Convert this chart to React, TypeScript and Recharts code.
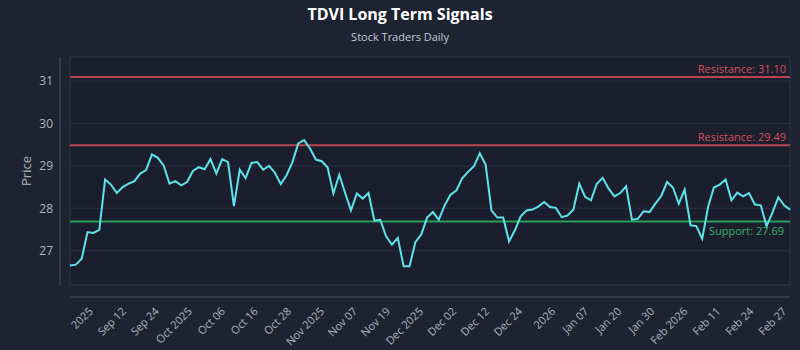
import React from 'react';
import { LineChart, Line, XAxis, YAxis, CartesianGrid, ReferenceLine } from 'recharts';

// ---------- data ----------
const TITLE = 'TDVI Long Term Signals';
const SUBTITLE = 'Stock Traders Daily';
const Y_LABEL = 'Price';

const PRICES = [
  26.65, 26.67, 26.81, 27.44, 27.42, 27.49, 28.68, 28.56, 28.36, 28.5,
  28.58, 28.64, 28.82, 28.9, 29.27, 29.19, 29.01, 28.58, 28.64, 28.54,
  28.62, 28.88, 28.97, 28.92, 29.16, 28.82, 29.16, 29.09, 28.05, 28.91,
  28.71, 29.07, 29.09, 28.91, 29.0, 28.84, 28.57, 28.78, 29.09, 29.53,
  29.61, 29.41, 29.15, 29.11, 28.97, 28.35, 28.79, 28.36, 27.95, 28.35,
  28.23, 28.36, 27.71, 27.73, 27.34, 27.14, 27.3, 26.63, 26.63, 27.2,
  27.38, 27.78, 27.91, 27.73, 28.07, 28.32, 28.42, 28.71, 28.86, 28.99,
  29.3, 29.03, 27.95, 27.78, 27.78, 27.22, 27.48, 27.81, 27.95, 27.97,
  28.04, 28.15, 28.03, 28.01, 27.79, 27.83, 27.97, 28.58, 28.27, 28.19,
  28.58, 28.72, 28.47, 28.28, 28.36, 28.52, 27.73, 27.75, 27.93, 27.91,
  28.11, 28.29, 28.62, 28.49, 28.11, 28.44, 27.6, 27.58, 27.28, 28.03,
  28.49, 28.56, 28.68, 28.19, 28.37, 28.28, 28.36, 28.09, 28.07, 27.58,
  27.9, 28.26, 28.07, 27.97,
];

const X_TICK_LABELS = [
  '2025', 'Sep 12', 'Sep 24', 'Oct 2025', 'Oct 06', 'Oct 16', 'Oct 28',
  'Nov 2025', 'Nov 07', 'Nov 19', 'Dec 2025', 'Dec 02', 'Dec 12', 'Dec 24',
  '2026', 'Jan 07', 'Jan 20', 'Jan 30', 'Feb 2026', 'Feb 11', 'Feb 24', 'Feb 27',
];

const Y_TICKS = [27, 28, 29, 30, 31];
const RESISTANCE_LEVELS = [31.1, 29.49];
const SUPPORT_LEVELS = [27.69];

// ---------- layout / style ----------
const W = 800;
const H = 350;
const PLOT = { left: 70, top: 57, right: 790, bottom: 285 };
const Y_DOMAIN: [number, number] = [26.19, 31.57];
const X_DOMAIN: [number, number] = [0, PRICES.length - 1];
const TICK_FIRST = 3.7;
const TICK_LAST = 122.2;

const FONT = '"Open Sans", "Noto Sans", sans-serif';
const BG = '#1e2332';
const PLOT_BG = '#1b1f2d';
const PLOT_BORDER = '#2c3243';
const GRID = '#2a3040';
const AXIS = '#4b5263';
const TEXT = '#aeb3bf';
const LINE = '#5fe3ea';
const RED_LINE = '#b9454f';
const RED_TEXT = '#d5505b';
const GREEN_LINE = '#2a9d5c';
const GREEN_TEXT = '#35b56b';

const data = PRICES.map((price, i) => ({ i, price }));
const xTicks = X_TICK_LABELS.map(
  (_, k) => TICK_FIRST + (k * (TICK_LAST - TICK_FIRST)) / (X_TICK_LABELS.length - 1)
);

const XTick = (props: any) => {
  const { x, y, payload } = props;
  const idx = xTicks.findIndex((t) => Math.abs(t - payload.value) < 1e-6);
  const label = idx >= 0 ? X_TICK_LABELS[idx] : '';
  return (
    <g transform={`translate(${x + 2},${y + 27})`}>
      <text
        x={0}
        y={0}
        textAnchor="end"
        transform="rotate(-45)"
        fill={TEXT}
        fontSize={11}
        fontFamily={FONT}
      >
        {label}
      </text>
    </g>
  );
};

export default function App() {
  return (
    <div style={{ position: 'absolute', left: 0, top: 0, width: W, height: H, background: BG }}>
      <svg
        width={W}
        height={H}
        style={{ position: 'absolute', left: 0, top: 0 }}
        fontFamily={FONT}
      >
        <rect
          x={PLOT.left}
          y={PLOT.top}
          width={PLOT.right - PLOT.left}
          height={PLOT.bottom - PLOT.top}
          fill={PLOT_BG}
          stroke={PLOT_BORDER}
          strokeWidth={1}
        />
        <line x1={PLOT.left - 10} x2={PLOT.left - 10} y1={PLOT.top} y2={PLOT.bottom} stroke={AXIS} strokeWidth={1} />
        <line x1={PLOT.left} x2={PLOT.right} y1={PLOT.bottom + 12} y2={PLOT.bottom + 12} stroke={AXIS} strokeWidth={1} />
        <text x={W / 2} y={20} textAnchor="middle" fill="#ffffff" fontSize={16} fontWeight="bold">
          {TITLE}
        </text>
        <text x={W / 2} y={41} textAnchor="middle" fill="#c4c9d2" fontSize={11}>
          {SUBTITLE}
        </text>
      </svg>
      <div style={{ position: 'absolute', left: 0, top: 0 }}>
        <LineChart
          width={W}
          height={H}
          data={data}
          margin={{ top: PLOT.top, right: W - PLOT.right, left: 0, bottom: 0 }}
        >
          <CartesianGrid stroke={GRID} vertical={false} />
          <XAxis
            type="number"
            dataKey="i"
            domain={X_DOMAIN}
            ticks={xTicks}
            interval={0}
            height={H - PLOT.bottom}
            axisLine={false}
            tickLine={false}
            tickSize={0}
            tickMargin={0}
            tick={<XTick />}
          />
          <YAxis
            type="number"
            domain={Y_DOMAIN}
            ticks={Y_TICKS}
            width={PLOT.left}
            axisLine={false}
            tickLine={false}
            tickSize={0}
            tickMargin={17}
            tick={{ fill: TEXT, fontSize: 12, fontFamily: FONT }}
            label={{
              value: Y_LABEL,
              angle: -90,
              position: 'center',
              dx: -9,
              fill: TEXT,
              fontSize: 13,
              fontFamily: FONT,
            }}
          />
          {RESISTANCE_LEVELS.map((v) => (
            <ReferenceLine
              key={`r${v}`}
              y={v}
              stroke={RED_LINE}
              strokeWidth={2}
              label={{
                value: `Resistance: ${v.toFixed(2)}`,
                position: 'insideBottomRight',
                offset: 4,
                fill: RED_TEXT,
                fontSize: 11,
                fontFamily: FONT,
              }}
            />
          ))}
          {SUPPORT_LEVELS.map((v) => (
            <ReferenceLine
              key={`s${v}`}
              y={v}
              stroke={GREEN_LINE}
              strokeWidth={2}
              label={{
                value: `Support: ${v.toFixed(2)}`,
                position: 'insideTopRight',
                offset: 6,
                fill: GREEN_TEXT,
                fontSize: 11,
                fontFamily: FONT,
              }}
            />
          ))}
          <Line
            type="linear"
            dataKey="price"
            stroke={LINE}
            strokeWidth={2}
            dot={false}
            isAnimationActive={false}
          />
        </LineChart>
      </div>
    </div>
  );
}
